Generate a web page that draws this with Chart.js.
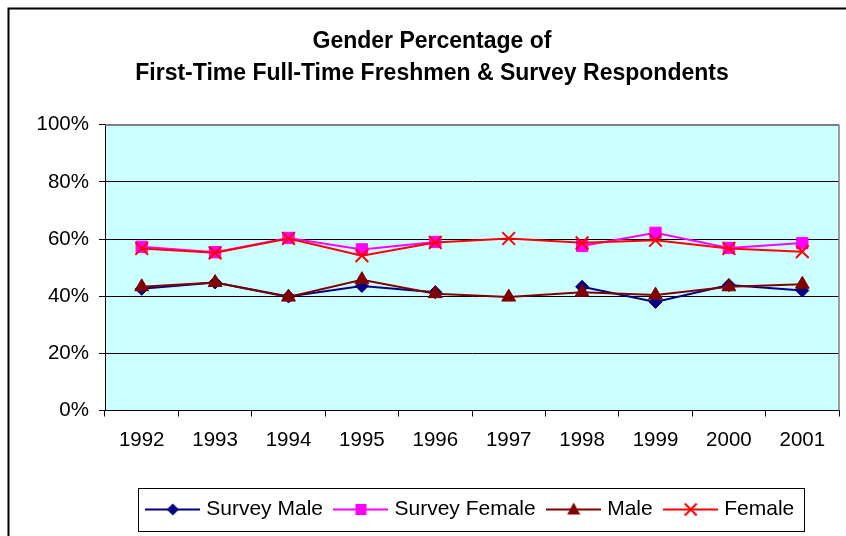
<!DOCTYPE html>
<html><head><meta charset="utf-8">
<script src="https://cdn.jsdelivr.net/npm/chart.js@4.4.1/dist/chart.umd.min.js"></script>
<style>html,body{margin:0;padding:0;background:#fff;overflow:hidden}#wrap{position:relative;width:846px;height:536px}</style>
</head><body><div id="wrap"><canvas id="c" width="846" height="536"></canvas></div>
<script>
const categories = ['1992','1993','1994','1995','1996','1997','1998','1999','2000','2001'];
const surveyMale   = [42.6, 44.8, 39.9, 43.6, 41.4, null, 43.3, 38.0, 43.9, 42.0];
const surveyFemale = [57.3, 55.4, 60.4, 56.4, 59.0, null, 57.6, 62.2, 56.9, 58.6];
const male         = [43.3, 44.8, 39.7, 45.8, 40.9, 39.7, 41.4, 40.4, 43.3, 44.2];
const female       = [56.7, 55.2, 60.2, 54.2, 58.8, 60.2, 58.7, 59.6, 56.7, 55.6];
const yTicks = [0, 20, 40, 60, 80, 100];
const seriesNames = ['Survey Male', 'Survey Female', 'Male', 'Female'];
const titleLines = ['Gender Percentage of', 'First-Time Full-Time Freshmen & Survey Respondents'];

const colors = ['#000080', '#FF00FF', '#800000', '#FF0000'];
const styles = ['rectRot', 'rect', 'triangle', 'crossRot'];
const radii = [6.5, 8, 8, 9];

function makeIcon(i) {
  const cv = document.createElement('canvas');
  cv.width = 55; cv.height = 21;
  const g = cv.getContext('2d');
  const cx = 27.5, cy = 10.5;
  g.strokeStyle = colors[i]; g.fillStyle = colors[i]; g.lineWidth = 2;
  g.beginPath(); g.moveTo(0, cy); g.lineTo(55, cy); g.stroke();
  g.beginPath();
  if (i === 0) { g.moveTo(cx, cy - 6); g.lineTo(cx + 6, cy); g.lineTo(cx, cy + 6); g.lineTo(cx - 6, cy); g.closePath(); g.fill(); }
  else if (i === 1) { g.fillRect(cx - 5.5, cy - 5.5, 11, 11); }
  else if (i === 2) { g.moveTo(cx, cy - 7); g.lineTo(cx + 6.5, cy + 5); g.lineTo(cx - 6.5, cy + 5); g.closePath(); g.fill(); }
  else { g.moveTo(cx - 6, cy - 6); g.lineTo(cx + 6, cy + 6); g.moveTo(cx + 6, cy - 6); g.lineTo(cx - 6, cy + 6); g.stroke(); }
  return cv;
}
const legendIcons = [0, 1, 2, 3].map(makeIcon);

const framePlugin = {
  id: 'frame',
  beforeDraw(chart) {
    const {ctx, chartArea: a} = chart;
    ctx.save();
    ctx.fillStyle = '#fff';
    ctx.fillRect(0, 0, chart.width, chart.height);
    ctx.fillStyle = '#CCFFFF';
    ctx.fillRect(a.left, a.top, a.right - a.left, a.bottom - a.top);
    ctx.strokeStyle = '#000'; ctx.lineWidth = 2;
    ctx.strokeRect(8.5, 8.5, chart.width + 40, chart.height + 40);
    ctx.restore();
  },
  beforeDatasetsDraw(chart) {
    const {ctx, chartArea: a} = chart;
    ctx.save();
    ctx.strokeStyle = '#808080'; ctx.lineWidth = 1.5;
    ctx.beginPath();
    ctx.moveTo(a.left, a.top + 0.5); ctx.lineTo(a.right, a.top + 0.5);
    ctx.moveTo(a.right, a.top); ctx.lineTo(a.right, a.bottom);
    ctx.stroke();
    ctx.restore();
  },
  afterDraw(chart) {
    const lg = chart.legend;
    if (!lg || !lg.legendHitBoxes.length) return;
    const hb = lg.legendHitBoxes;
    const left = hb[0].left - 4.5 - 7;
    const last = hb[hb.length - 1];
    const right = last.left + last.width + 10;
    const cy = hb[0].top + hb[0].height / 2;
    const ctx = chart.ctx;
    ctx.save();
    ctx.strokeStyle = '#000'; ctx.lineWidth = 1;
    ctx.strokeRect(Math.round(left) + 0.5, Math.round(cy - 21.5) + 0.5, Math.round(right - left), 43);
    ctx.restore();
  }
};

const dataArrays = [surveyMale, surveyFemale, male, female];
const datasets = dataArrays.map((d, i) => ({
  label: seriesNames[i],
  data: d,
  borderColor: colors[i],
  backgroundColor: colors[i],
  borderWidth: 2,
  pointStyle: styles[i],
  pointRadius: radii[i],
  pointHoverRadius: radii[i],
  pointBackgroundColor: colors[i],
  pointBorderColor: colors[i],
  pointBorderWidth: i === 3 ? 2 : 1,
  spanGaps: false,
  tension: 0,
  fill: false,
  order: 4 - i
}));

new Chart(document.getElementById('c'), {
  type: 'line',
  data: {labels: categories, datasets},
  plugins: [framePlugin],
  options: {
    responsive: false,
    devicePixelRatio: 1,
    animation: false,
    layout: {autoPadding: false, padding: {top: 8, left: 25, right: 7, bottom: 6}},
    plugins: {
      tooltip: {enabled: false},
      title: {
        display: true,
        text: titleLines,
        color: '#000',
        font: {family: 'Liberation Sans', size: 23, weight: 'bold', lineHeight: 1.42},
        padding: {top: 17, bottom: 34.5}
      },
      legend: {
        position: 'bottom',
        fullSize: false,
        labels: {
          usePointStyle: true,
          pointStyleWidth: 46,
          padding: 15,
          color: '#000',
          font: {family: 'Liberation Sans', size: 21},
          generateLabels: (chart) => chart.data.datasets.map((ds, i) => ({
            text: ds.label, pointStyle: legendIcons[i], fillStyle: 'rgba(0,0,0,0)',
            strokeStyle: 'rgba(0,0,0,0)', lineWidth: 0, hidden: false, datasetIndex: i, fontColor: '#000'
          }))
        }
      }
    },
    scales: {
      x: {
        offset: true,
        grid: {offset: true, drawOnChartArea: false, drawTicks: true, tickLength: 6, color: '#000'},
        border: {color: '#000', width: 1},
        ticks: {color: '#000', padding: 12, autoSkip: false, maxRotation: 0, font: {family: 'Liberation Sans', size: 20.5}},
        afterFit: (s) => { s.height = 73.5; s.paddingRight = 0; s.paddingLeft = 0; }
      },
      y: {
        min: 0, max: 100,
        afterBuildTicks: (s) => { s.ticks = yTicks.map(v => ({value: v})); },
        grid: {color: (c) => c.tick && c.tick.value === 100 ? '#808080' : '#000', lineWidth: 1, tickLength: 6, tickColor: '#000', drawTicks: true},
        border: {color: '#000', width: 1},
        ticks: {color: '#000', padding: 10, callback: (v) => v + '%', font: {family: 'Liberation Sans', size: 20.5}},
        afterFit: (s) => { s.width = 80; }
      }
    }
  }
});
</script>
</body></html>
